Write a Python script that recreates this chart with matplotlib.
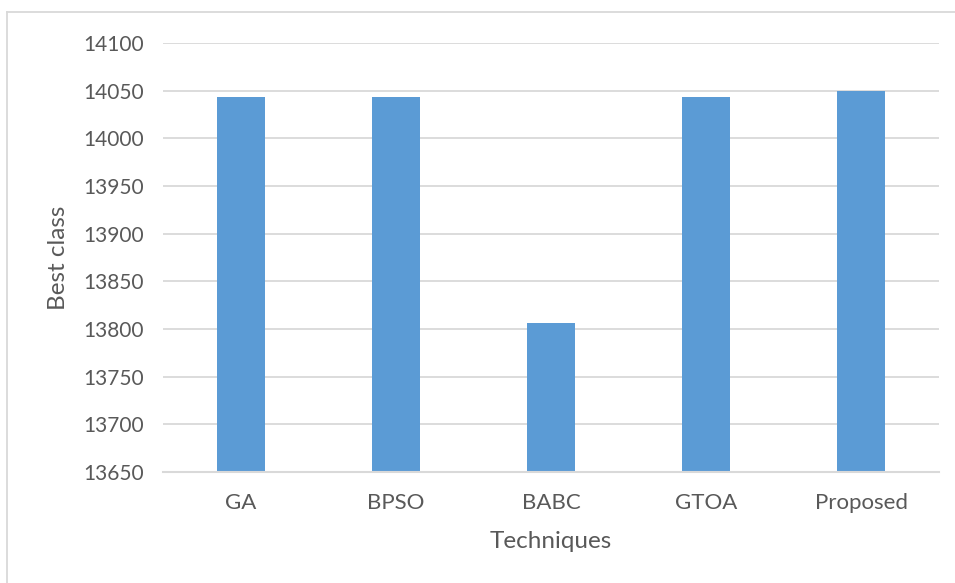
import matplotlib.pyplot as plt
from matplotlib.lines import Line2D

techniques = ["GA", "BPSO", "BABC", "GTOA", "Proposed"]
best_class = [14043, 14043, 13806, 14043, 14050]
y_ticks = [13650, 13700, 13750, 13800, 13850, 13900, 13950, 14000, 14050, 14100]

plt.rcParams["font.family"] = ["Lato", "DejaVu Sans"]
text_color = "#595959"
grid_color = "#D9D9D9"

fig = plt.figure(figsize=(9.55, 5.83), dpi=100)
ax = fig.add_axes([163 / 955, 1 - 472 / 583, (939 - 163) / 955, (472 - 43) / 583])

x = range(len(techniques))
ax.bar(x, best_class, width=0.31, bottom=0, color="#5B9BD5", zorder=3)
ax.set_xlim(-0.5, len(techniques) - 0.5)
ax.set_ylim(13650, 14100)
ax.set_yticks(y_ticks)
ax.set_yticklabels([str(v) for v in y_ticks])
ax.set_xticks(list(x))
ax.set_xticklabels(techniques)

ax.grid(axis="y", color=grid_color, linewidth=1.3, zorder=0)
for side in ["top", "right", "left"]:
    ax.spines[side].set_visible(False)
ax.spines["bottom"].set_color(grid_color)
ax.spines["bottom"].set_linewidth(1.5)
ax.spines["bottom"].set_zorder(4)
ax.tick_params(axis="both", length=0, colors=text_color)
ax.tick_params(axis="y", pad=14, labelsize=15)
ax.tick_params(axis="x", pad=15, labelsize=16)

ax.set_xlabel("Techniques", fontsize=17.5, color=text_color, labelpad=13)
ax.set_ylabel("Best class", fontsize=17.5, color=text_color, labelpad=10)

# chart frame: left and top edges
fig.add_artist(Line2D([7 / 955, 7 / 955], [0, 1 - 12 / 583], transform=fig.transFigure,
                      color=grid_color, linewidth=1.3))
fig.add_artist(Line2D([7 / 955, 1], [1 - 12 / 583, 1 - 12 / 583], transform=fig.transFigure,
                      color=grid_color, linewidth=1.3))

fig.savefig("out.png", dpi=100)
